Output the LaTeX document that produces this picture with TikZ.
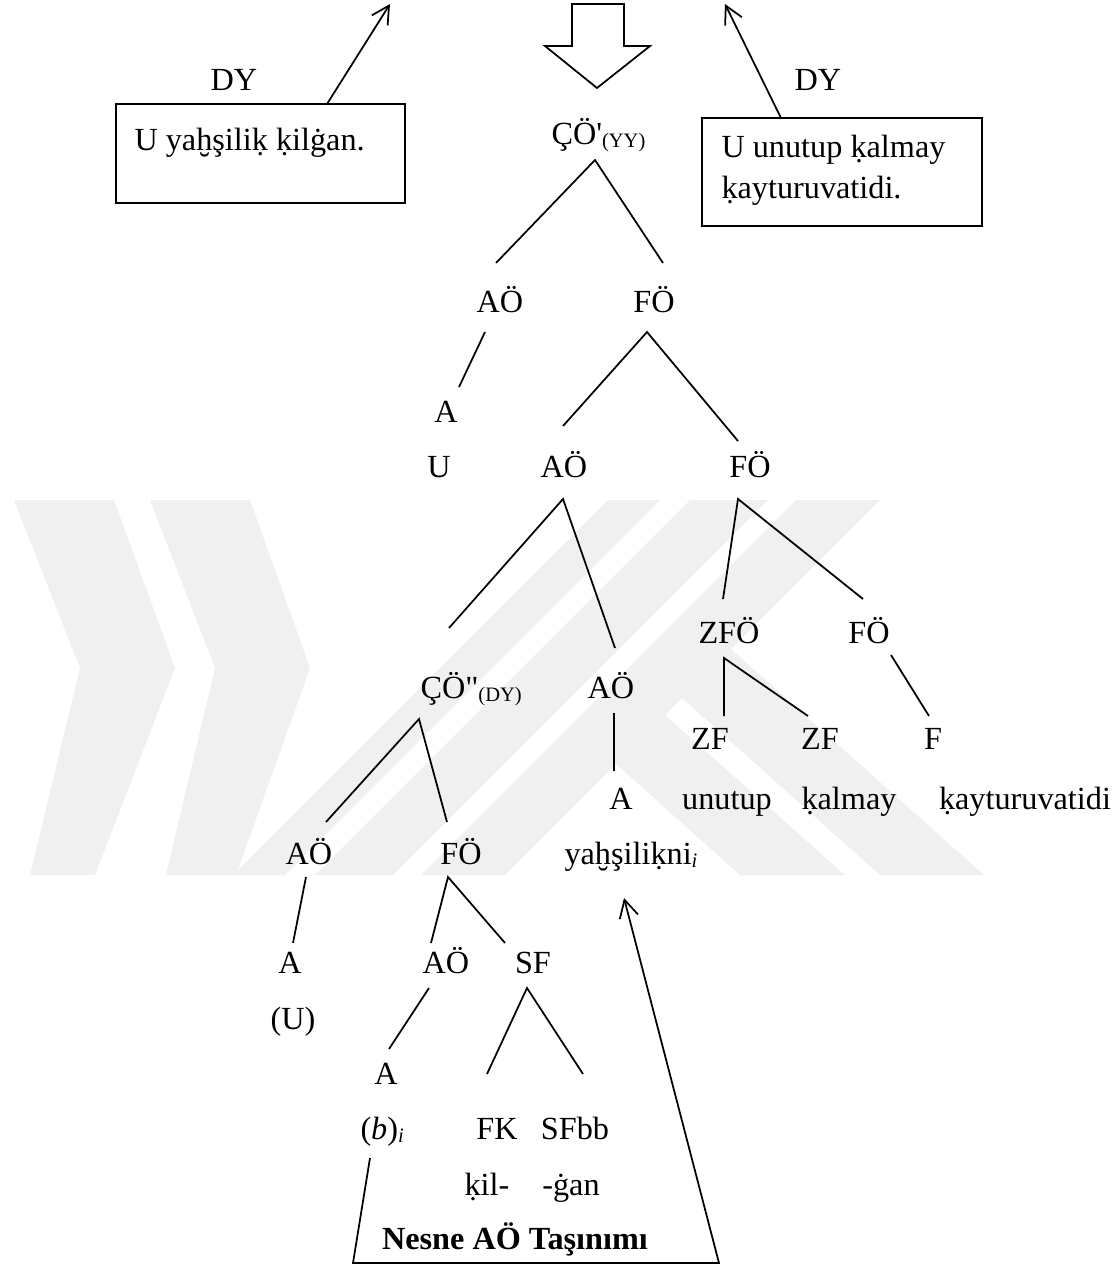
\documentclass[tikz,border=0pt]{standalone}
\usepackage{fontspec}
\setmainfont{Liberation Serif}
\usetikzlibrary{arrows.meta}
% small lowered index after a category label
\newcommand\subl[1]{\raisebox{-1.3pt}{\fontsize{8.2pt}{9pt}\selectfont #1}}
\begin{document}
\begin{tikzpicture}[x=0.4pt,y=-0.4pt,
  lab/.style={anchor=base, inner sep=0pt, font=\fontsize{12.9pt}{14pt}\selectfont},
  labw/.style={lab, anchor=base west},
  edge/.style={line width=0.7pt},
  move/.style={line width=0.7pt, -{Straight Barb[length=7pt,width=7.5pt]}},
  frame/.style={draw, line width=0.7pt},
  wmark/.style={fill=black!6, draw=none}]
\useasboundingbox (0,0) rectangle (1116,1269);

% --- faint background emblem (striped bands) ---
\fill[wmark] (150,500) -- (250,500) -- (310,668) -- (236,875) -- (166,875) -- (215,668) -- cycle;
\fill[wmark] (14,500) -- (114,500) -- (175,668) -- (95,875) -- (30,875) -- (80,668) -- cycle;
\fill[wmark] (608,500) -- (660,500) -- (285,875) -- (233,875) -- cycle;
\fill[wmark] (690,500) -- (768,500) -- (393,875) -- (315,875) -- cycle;
\fill[wmark] (796,500) -- (880,500) -- (505,875) -- (421,875) -- cycle;
\fill[wmark] (616,764) -- (665,715) -- (845,875) -- (740,875) -- cycle;
\fill[wmark] (682,698) -- (731,649) -- (984,875) -- (880,875) -- cycle;

% --- top: derivation arrows and the two embedded sentences ---
\draw[line width=0.7pt, line join=miter] (572,4) -- (624,4) -- (624,46) -- (650,46)
  -- (597,88) -- (545,46) -- (572,46) -- cycle;

\node[lab] (dyl) at (234,90) {DY};
\node[lab] (dyr) at (818,90) {DY};
\draw[frame] (116,104) rectangle (405,203);
\node[labw] (sl) at (134,150) {U yaḫşiliḳ ḳilġan.};
\draw[frame] (702,118) rectangle (982,226);
\node[labw] (sr1) at (721,157) {U unutup ḳalmay};
\node[labw] (sr2) at (721,198) {ḳayturuvatidi.};

\coordinate (lbox-top) at (327,104);
\coordinate (lup) at (390,4);
\coordinate (rbox-top) at (781,118);
\coordinate (rup) at (725,4);
\draw[move] (lbox-top) -- (lup);
\draw[move] (rbox-top) -- (rup);

% --- tree labels ---
\node[labw] (root) at (551,144) {ÇÖ\textquotesingle\subl{(YY)}};
\node[lab] (ao1) at (500,312) {AÖ};
\node[lab] (fo1) at (654,312) {FÖ};
\node[lab] (a1) at (446,422) {A};
\node[lab] (u1) at (439,477) {U};
\node[lab] (ao2) at (564,477) {AÖ};
\node[lab] (fo2) at (750,477) {FÖ};
\node[lab] (zfo) at (729,643) {ZFÖ};
\node[lab] (fo3) at (869,643) {FÖ};
\node[labw] (co2) at (420,698) {ÇÖ\textquotedbl\subl{(DY)}};
\node[lab] (ao3) at (611,698) {AÖ};
\node[lab] (zf1) at (710,749) {ZF};
\node[lab] (zf2) at (820,749) {ZF};
\node[lab] (f1) at (933,749) {F};
\node[lab] (a2) at (621,809) {A};
\node[lab] (w1) at (727,809) {unutup};
\node[lab] (w2) at (849,809) {ḳalmay};
\node[lab] (w3) at (1025,809) {ḳayturuvatidi};
\node[lab] (ao4) at (309,864) {AÖ};
\node[lab] (fo4) at (461,864) {FÖ};
\node[labw] (obj) at (564,864) {yaḫşiliḳni\subl{\itshape i}};
\node[lab] (a3) at (290,973) {A};
\node[lab] (ao5) at (446,973) {AÖ};
\node[lab] (sf) at (533,973) {SF};
\node[lab] (u2) at (293,1029) {(U)};
\node[lab] (a4) at (386,1084) {A};
\node[labw] (tr) at (360,1139) {(\textit{b})\subl{\itshape i}};
\node[lab] (fk) at (497,1139) {FK};
\node[lab] (sfbb) at (575,1139) {SFbb};
\node[lab] (m1) at (487,1195) {ḳil-};
\node[lab] (m2) at (571,1195) {-ġan};
\node[lab, font=\fontsize{12.9pt}{14pt}\selectfont\bfseries] (mv) at (515,1249) {Nesne AÖ Taşınımı};

% --- branch end points ---
\coordinate (root-b) at (595,160);
\coordinate (ao1-t) at (496,263);
\coordinate (fo1-t) at (663,263);
\coordinate (ao1-b) at (485,332);
\coordinate (a1-t) at (459,387);
\coordinate (fo1-b) at (647,332);
\coordinate (ao2-t) at (563,426);
\coordinate (fo2-t) at (738,441);
\coordinate (ao2-b) at (563,499);
\coordinate (co2-t) at (449,628);
\coordinate (ao3-t) at (615,648);
\coordinate (fo2-b) at (738,499);
\coordinate (zfo-t) at (723,599);
\coordinate (fo3-t) at (863,599);
\coordinate (co2-b) at (419,719);
\coordinate (ao4-t) at (326,822);
\coordinate (fo4-t) at (447,822);
\coordinate (ao3-b) at (614,713);
\coordinate (a2-t) at (614,771);
\coordinate (zfo-b) at (724,658);
\coordinate (zf1-t) at (724,716);
\coordinate (zf2-t) at (808,716);
\coordinate (fo3-b) at (891,655);
\coordinate (f1-t) at (929,716);
\coordinate (ao4-b) at (306,877);
\coordinate (a3-t) at (293,943);
\coordinate (fo4-b) at (448,877);
\coordinate (ao5-t) at (431,943);
\coordinate (sf-t) at (505,943);
\coordinate (ao5-b) at (429,988);
\coordinate (a4-t) at (389,1049);
\coordinate (sf-b) at (527,988);
\coordinate (fk-t) at (487,1074);
\coordinate (sfbb-t) at (583,1074);

\draw[edge] (ao1-t) -- (root-b) -- (fo1-t);
\draw[edge] (ao1-b) -- (a1-t);
\draw[edge] (ao2-t) -- (fo1-b) -- (fo2-t);
\draw[edge] (co2-t) -- (ao2-b) -- (ao3-t);
\draw[edge] (zfo-t) -- (fo2-b) -- (fo3-t);
\draw[edge] (ao4-t) -- (co2-b) -- (fo4-t);
\draw[edge] (ao3-b) -- (a2-t);
\draw[edge] (zf1-t) -- (zfo-b) -- (zf2-t);
\draw[edge] (fo3-b) -- (f1-t);
\draw[edge] (ao4-b) -- (a3-t);
\draw[edge] (ao5-t) -- (fo4-b) -- (sf-t);
\draw[edge] (ao5-b) -- (a4-t);
\draw[edge] (fk-t) -- (sf-b) -- (sfbb-t);

% --- movement of the object NP ---
\coordinate (tr-b) at (370,1158);
\coordinate (mv-l) at (353,1263);
\coordinate (mv-r) at (719,1263);
\coordinate (obj-b) at (624,898);
\draw[move, line join=miter] (tr-b) -- (mv-l) -- (mv-r) -- (obj-b);
\end{tikzpicture}
\end{document}
